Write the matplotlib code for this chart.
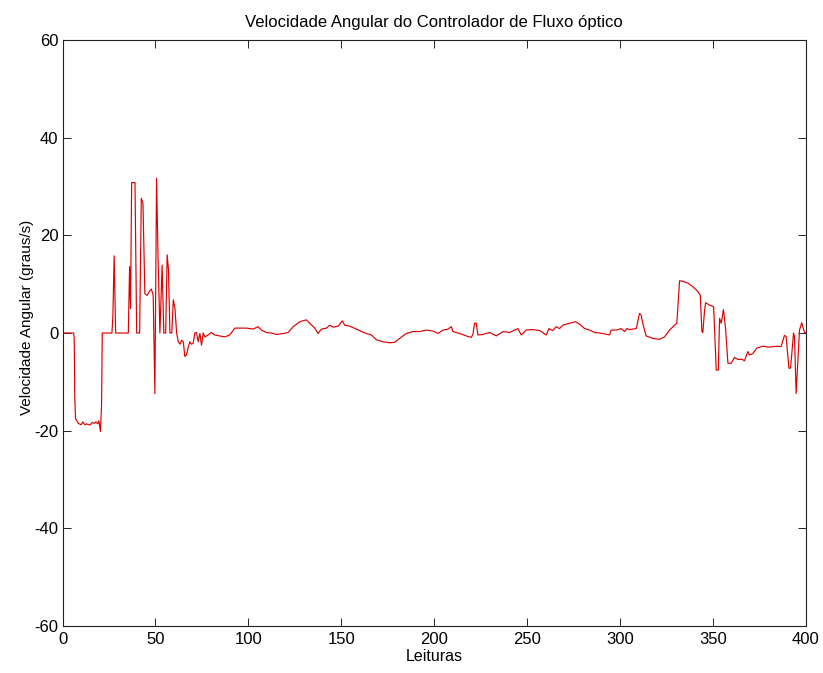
import matplotlib
matplotlib.use("Agg")
import matplotlib.pyplot as plt

plt.rcParams['font.family'] = ['Liberation Sans', 'DejaVu Sans']
plt.rcParams['axes.unicode_minus'] = False

# leituras (x) e velocidade angular (graus/s)
leituras = [
    0, 6, 6.3, 6.6, 7, 7.5, 8.5, 10, 11, 12, 13, 14, 15, 16, 17, 18, 19, 19.6, 20.4, 21, 21.4,
    26.6, 27.1, 27.8, 28.6, 35.4, 36.1, 36.6, 37.2, 39, 39.9, 41.5, 42.4, 43.3, 44.3, 45.5,
    46.9, 47.8, 48.8, 49.7, 50.6, 51.4, 52.4, 53.6, 54.5, 55.5, 56.3, 57, 57.8, 58.8, 59.6,
    60.5, 61.4, 62.3, 63.2, 64.1, 65, 65.8, 66.7, 67.6, 68.5, 69.4, 70.3, 71.2,
    72.1, 73, 73.9, 74.8, 75.7, 76.6, 78.4, 80.1, 81.9, 84.6, 87.3, 90, 92.7, 95.4, 99,
    102.6, 105.2, 107, 109.7, 112.4, 115.1, 118.7, 121.4, 124.1, 127.6, 131.2, 133, 135.7,
    137.5, 139.3, 142, 143.8, 145.6, 148.3, 150.6, 151.8, 154.5, 158.1, 160.8, 163.5, 166.2,
    168.9, 172.4, 176, 178.7, 181.4, 185, 188.6, 192.2, 195.7, 199.3, 202, 204.7, 207.4,
    209.2, 210.1, 213.7, 217.2, 219.9, 220.8, 221.7, 222.6, 223.5, 226.2, 229.8,
    233.4, 237, 240.6, 243.2, 245, 246.8, 249.5, 253.1, 256.7, 260.3, 261.7, 263.8, 265.6,
    267.4, 269.2, 272.8, 276, 278.2, 280.9, 283.6, 286.3, 289, 291.6, 294.3, 295.2, 297.9,
    300.6, 302.4, 303.6, 305, 308.7, 310.4, 311.3, 312.6, 314, 317.6, 321.2, 323.9, 326.6,
    329.3, 330.5, 331.2, 332, 333.8, 336.5, 339.1, 341.8, 343.1, 344, 344.5, 345.4, 346,
    348.1, 350.3, 350.8, 351.7, 352.8, 353.5, 354.4, 355.6, 356.7, 358, 359.8, 361.5, 363.3,
    365.7, 366.9, 368.7, 369.6, 371.4, 373.5, 376.8, 379.5, 382.2, 384.9, 386.6, 388.4,
    389.3, 390.8, 391.7, 393.3, 393.8, 394.7, 395.6, 396.5, 397.7, 399.2, 400,
]
velocidade = [
    0, 0, -1, -13, -17.5, -17.8, -18.5, -18.8, -18.2, -18.8, -18.6, -18.8, -18.8, -18.3, -18.5,
    -18.2, -18.6, -18, -20.2, -15, 0,
    0, 3.5, 15.8, 0, 0, 13.6, 5, 30.8, 30.8, 0, 0, 27.6, 26.5, 8.1, 7.7,
    8.6, 9.0, 7.7, -12.4, 31.7, 15.6, 0, 13.9, 0, 0, 16, 13, 0, 0, 6.8,
    5, 0, -1.8, -2.3, -1.5, -1.8, -4.8, -4.5, -3, -1.8, -2.3, -2.1, 0,
    0.1, -1.8, -0.1, -2.5, 0, -0.8, -0.4, 0.1, -0.4, -0.6, -0.8, -0.4, 1.0, 1.0, 1.0,
    0.8, 1.3, 0.6, 0.1, 0, -0.3, -0.1, 0.1, 1.3, 2.3, 2.7, 2.0, 1.0,
    -0.1, 0.8, 1.0, 1.6, 1.2, 1.4, 2.5, 1.6, 1.4, 0.8, 0.3, -0.1, -0.4,
    -1.4, -1.8, -2.0, -1.9, -1.1, -0.1, 0.3, 0.3, 0.6, 0.4, -0.1, 0.6, 0.8,
    1.3, 0.3, -0.1, -0.6, -0.9, -0.3, 2.0, 2.0, -0.4, -0.3, 0.1,
    -0.6, 0.3, 0.1, 0.6, 0.9, -0.4, 0.6, 0.7, 0.5, -0.4, 0.9, 0.5, 1.3,
    0.9, 1.6, 2.0, 2.3, 1.8, 0.9, 0.6, 0.1, 0, -0.2, -0.4, 0.6, 0.6,
    0.9, 0.3, 0.9, 0.7, 0.9, 4.0, 3.7, 1.3, -0.6, -1.1, -1.3, -0.8, 0.6,
    1.6, 2.0, 6, 10.7, 10.6, 10.2, 9.5, 8.5, 7.8, 0.3, 0.1, 4.5, 6.2,
    5.7, 5.4, 0.6, -7.6, -7.6, 3.0, 2.0, 4.8, 1.0, -6.2, -6.2, -5.0, -5.4,
    -5.4, -5.7, -3.8, -4.5, -4.2, -3.1, -2.7, -2.9, -2.8, -2.7, -2.8, -0.5,
    -0.7, -7.2, -7.2, 0, -0.7, -12.4, -6, 0.6, 2.1, 0.1, 0,
]

x_ticks = [0, 50, 100, 150, 200, 250, 300, 350, 400]
y_ticks = [-60, -40, -20, 0, 20, 40, 60]

fig = plt.figure(figsize=(8.23, 6.73), dpi=100, facecolor='white')
ax = fig.add_axes([62.5 / 823, 47 / 673, 743.5 / 823, 586 / 673])

ax.plot(leituras, velocidade, color='#dd0000', lw=0.85)

ax.set_xlim(0, 400)
ax.set_ylim(-60, 60)
ax.set_xticks(x_ticks)
ax.set_yticks(y_ticks)
ax.tick_params(direction='in', length=6, width=0.6, top=True, right=True,
               labelsize=12, colors='black')
ax.tick_params(axis='x', pad=4.5)
ax.tick_params(axis='y', pad=3)
for s in ax.spines.values():
    s.set_linewidth(0.8)
    s.set_color('#222222')

ax.set_title('Velocidade Angular do Controlador de Fluxo óptico', fontsize=12, pad=9)
ax.set_xlabel('Leituras', fontsize=11.5)
ax.set_ylabel('Velocidade Angular (graus/s)', fontsize=11)
ax.xaxis.set_label_coords(0.5, -0.039)
ax.yaxis.set_label_coords(-0.039, 0.527)

fig.savefig('out.png', dpi=100, facecolor='white')
